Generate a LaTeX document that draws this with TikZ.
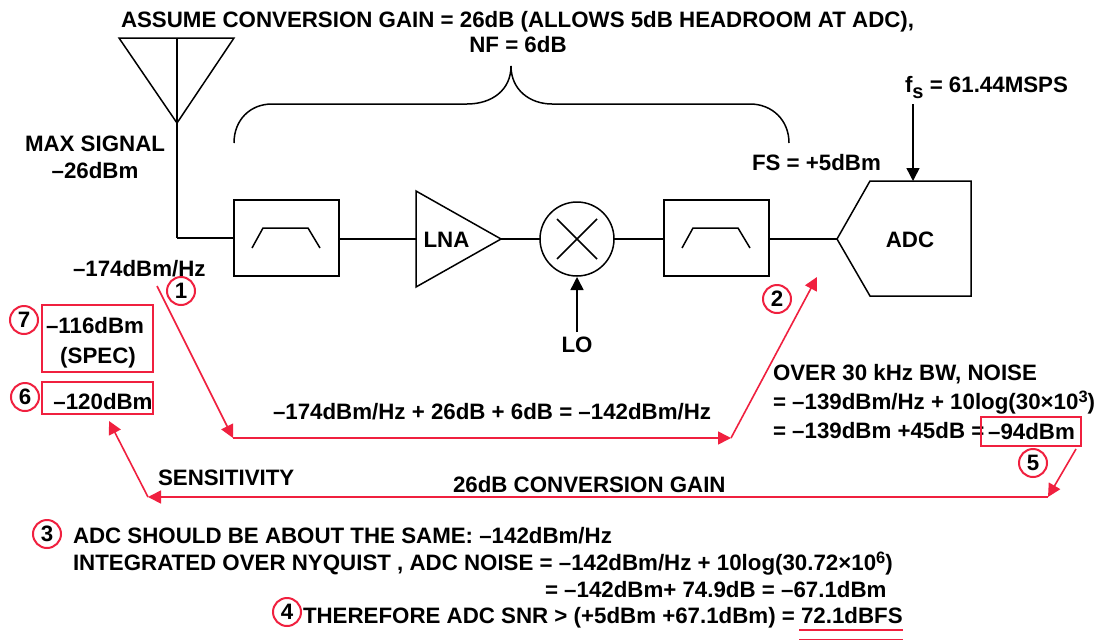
\documentclass[tikz,border=0pt]{standalone}
\usepackage{fontspec}
\setmainfont{Liberation Sans}
\usetikzlibrary{arrows.meta}
\definecolor{redl}{HTML}{F0203F}
\newcommand{\sups}[1]{\raisebox{7.5pt}{\fontsize{16.5}{16.5}\selectfont #1}}
\tikzset{
 x=1pt,y=-1pt,
 every node/.style={font=\fontsize{22.3}{26}\selectfont\bfseries,inner sep=0pt,outer sep=0pt,text=black},
 lbl/.style={anchor=base west,yshift=-0.7pt},
 ctr/.style={anchor=base},
 blk/.style={draw=black,line width=1.5pt,line join=miter},
 fbox/.style={draw=black,line width=1.5pt,minimum width=105pt,minimum height=76pt},
 redbox/.style={draw=redl,line width=1.5pt},
 redline/.style={draw=redl,line width=1.6pt},
 redarr/.style={redline,-{Triangle[length=13pt,width=13pt,fill=redl]}},
 blkarr/.style={blk,-{Triangle[length=13pt,width=13pt,fill=black]}},
 num/.style={circle,draw=redl,line width=2pt,minimum size=28pt},
}
\begin{document}
\begin{tikzpicture}
\useasboundingbox (0,0) rectangle (1099,640);
\fill[white] (0,0) rectangle (1099,640);
% antenna
\coordinate (antL) at (119,38);
\coordinate (antR) at (234,38);
\coordinate (antT) at (177,38);
\coordinate (antB) at (177,123);
\coordinate (antC) at (177,238);
\draw[blk] (antL) -- (antR) -- (antB) -- cycle;
\draw[blk] (antT) -- (antB) -- (antC);
% chain
\node[fbox] (f1) at (286.5,238) {};
\node[fbox] (f2) at (716.5,238) {};
\draw[blk] (252,248) -- (263,228) -- (308,228) -- (320,248);
\draw[blk] (682,248) -- (693,228) -- (738,228) -- (750,248);
\coordinate (lnaA) at (416,191);
\coordinate (lnaB) at (416,287);
\coordinate (lnaI) at (416,239);
\coordinate (lnaO) at (501,239);
\draw[blk] (lnaA) -- (lnaO) -- (lnaB) -- cycle;
\node[ctr] (lna) at (446.5,247) {LNA};
\node[circle,draw=black,line width=1.5pt,minimum size=74pt] (mix) at (577,239) {};
\draw[blk] (557,219) -- (597,259) (597,219) -- (557,259);
\coordinate (adcI) at (837,239);
\draw[blk] (adcI) -- (870,181) -- (971,181) -- (971,296) -- (870,296) -- cycle;
\node[ctr] (adc) at (910,247) {ADC};
\draw[blk] (antC) -- (f1.west |- antC);
\draw[blk] (f1.east |- lnaI) -- (lnaI);
\draw[blk] (lnaO) -- (mix.west);
\draw[blk] (mix.east) -- (f2.west |- mix.east);
\draw[blk] (f2.east |- adcI) -- (adcI);
% brace
\draw[blk] (234,143) .. controls (234,120) and (250,104) .. (272,104) -- (467,104) .. controls (492,104) and (511,90) .. (511,66) .. controls (511,90) and (530,104) .. (552,104) -- (750,104) .. controls (772,104) and (789,120) .. (789,143);
% black arrows
\coordinate (fsS) at (913,104);
\coordinate (fsE) at (913,181);
\draw[blkarr] (fsS) -- (fsE);
\node[ctr] (lo) at (577,352) {LO};
\coordinate (loS) at (577,332);
\coordinate (loE) at (577,277);
\draw[blkarr] (loS) -- (loE);
% black text
\node[lbl] (t1) at (121,27) {ASSUME CONVERSION GAIN = 26dB (ALLOWS 5dB HEADROOM AT ADC),};
\node[ctr] (t2) at (518,52.7) {NF = 6dB};
\node[ctr] (t3) at (95,151) {MAX SIGNAL};
\node[ctr] (t4) at (95,178) {–26dBm};
\node[lbl] (t5) at (73,276) {–174dBm/Hz};
\node[lbl] (t6) at (752,170) {FS = +5dBm};
\node[lbl] (t7) at (905,91.5) {f\raisebox{-6.5pt}{\fontsize{20}{20}\selectfont s} = 61.44MSPS};
\node[lbl] (t8) at (273,419) {–174dBm/Hz + 26dB + 6dB = –142dBm/Hz};
\node[lbl] (t9) at (773,380) {OVER 30 kHz BW, NOISE};
\node[lbl] (t10) at (773,409) {= –139dBm/Hz + 10log(30×10\sups{3})};
\node[lbl] (t11) at (773,438) {= –139dBm +45dB = };
\node[lbl] (t12) at (158,485) {SENSITIVITY};
\node[lbl] (t13) at (453,492) {26dB CONVERSION GAIN};
\node[lbl] (t14) at (73,543) {ADC SHOULD BE ABOUT THE SAME: –142dBm/Hz};
\node[lbl] (t15) at (73,570) {INTEGRATED OVER NYQUIST , ADC NOISE = –142dBm/Hz + 10log(30.72×10\sups{6})};
\node[lbl] (t16) at (545,597) {= –142dBm+ 74.9dB = –67.1dBm};
\node[lbl] (t17) at (303,623) {THEREFORE ADC SNR > (+5dBm +67.1dBm) = 72.1dBFS};
% red boxes
\node[redbox,minimum width=111pt,minimum height=67pt] (b7) at (97.5,338.5) {};
\node[ctr] (b7a) at (95,333) {–116dBm};
\node[ctr] (b7b) at (98,363) {(SPEC)};
\node[redbox,minimum width=111pt,minimum height=32pt] (b6) at (97.5,398) {};
\node[ctr] (b6a) at (103,409) {–120dBm};
\node[redbox,minimum width=100pt,minimum height=29pt] (b5) at (1031,431.5) {};
\node[ctr] (b5a) at (1031.5,439) {–94dBm};
% red arrows
\coordinate (r1) at (157,286);
\coordinate (r2) at (233,438);
\coordinate (r3) at (731,438);
\coordinate (r4) at (817,277);
\draw[redarr] (r1) -- (r2);
\draw[redarr] (r2) -- (r3);
\draw[redarr] (r3) -- (r4);
\coordinate (r5) at (1076,449);
\coordinate (r6) at (1048,497);
\coordinate (r7) at (148,497);
\coordinate (r8) at (109,421);
\draw[redarr] (r5) -- (r6);
\draw[redarr] (r6) -- (r7);
\draw[redarr] (r7) -- (r8);
% underlines
\coordinate (u1) at (799,630);
\coordinate (u2) at (903,630);
\coordinate (u3) at (799,639.5);
\coordinate (u4) at (903,639.5);
\draw[redl,line width=1.8pt] (u1) -- (u2);
\draw[redl,line width=1.8pt] (u3) -- (u4);
% numbers
\node[num] (n1) at (181,291) {1};
\node[num] (n2) at (777,299) {2};
\node[num] (n3) at (47,534) {3};
\node[num] (n4) at (287,612) {4};
\node[num] (n5) at (1033,463) {5};
\node[num] (n6) at (25,397) {6};
\node[num] (n7) at (24,320) {7};
\end{tikzpicture}
\end{document}
